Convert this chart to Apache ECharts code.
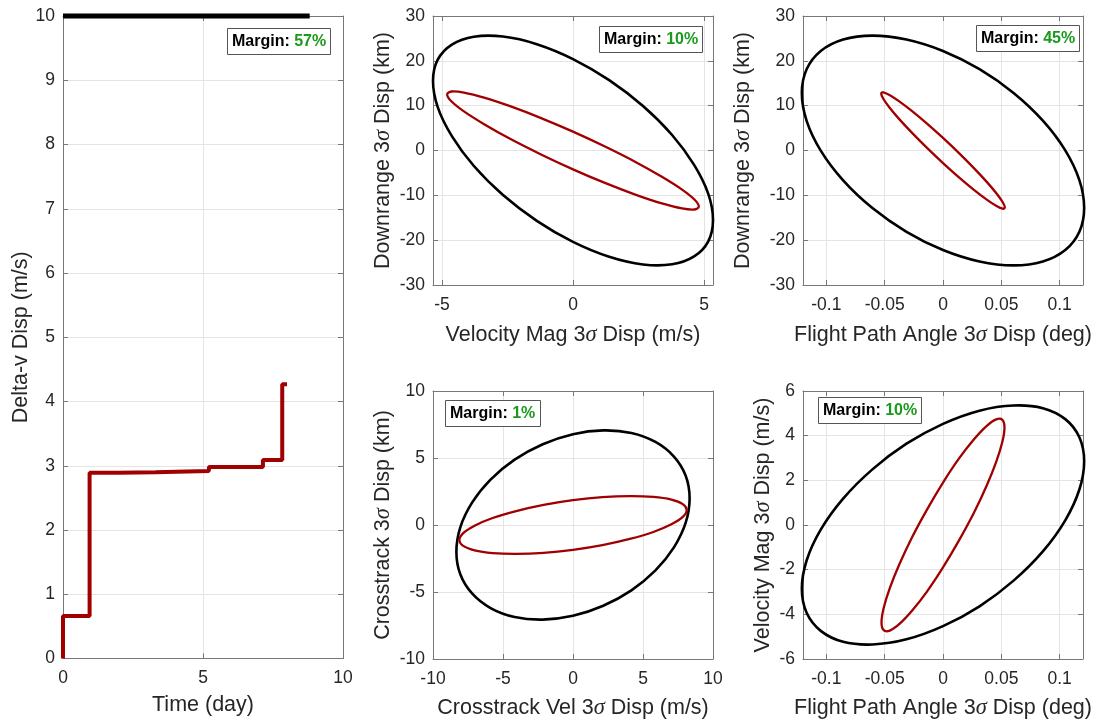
<!DOCTYPE html>
<html><head><meta charset="utf-8">
<script src="https://cdn.jsdelivr.net/npm/echarts@6/dist/echarts.min.js"></script>
<style>html,body{margin:0;padding:0;background:#fff}#c{width:1098px;height:721px}</style>
</head><body><div id="c"></div>
<script>
// ---- Data ----
// Panel 1: delta-v dispersion vs time (stairs) and the limit line
const dvTime = [0, 0, 0.95, 1.96, 3.3, 5.21, 7.14, 7.83, 8.0];
const dvValue = [0, 0.66, 2.89, 2.90, 2.92, 2.98, 3.09, 4.27, 4.27];
const dvLimitTime = [0, 8.81];
const dvLimitValue = [10, 10];

// Panel 2: Velocity Mag (m/s) vs Downrange (km) - closed outlines
const vmDrLimit = [[5.34,-15.5],[5.16,-9.69],[4.62,-3.22],[3.78,3.46],[2.67,9.92],[1.38,15.69],[0,20.4],[-1.38,23.72],[-2.67,25.42],[-3.78,25.38],[-4.62,23.62],[-5.16,20.25],[-5.34,15.5],[-5.16,9.69],[-4.62,3.22],[-3.78,-3.46],[-2.67,-9.92],[-1.38,-15.69],[0,-20.4],[1.38,-23.72],[2.67,-25.42],[3.78,-25.38],[4.62,-23.62],[5.16,-20.25]];
const vmDrActual = [[4.8,-12.5],[4.64,-10.99],[4.16,-8.73],[3.39,-5.87],[2.4,-2.61],[1.24,0.82],[0,4.2],[-1.24,7.29],[-2.4,9.89],[-3.39,11.81],[-4.16,12.93],[-4.64,13.16],[-4.8,12.5],[-4.64,10.99],[-4.16,8.73],[-3.39,5.87],[-2.4,2.61],[-1.24,-0.82],[0,-4.2],[1.24,-7.29],[2.4,-9.89],[3.39,-11.81],[4.16,-12.93],[4.64,-13.16]];

// Panel 3: Flight Path Angle (deg) vs Downrange (km)
const fpaDrLimit = [[0.121,-12.8],[0.1169,-6.62],[0.1048,0.02],[0.0856,6.65],[0.0605,12.83],[0.0313,18.13],[0,22.2],[-0.0313,24.76],[-0.0605,25.63],[-0.0856,24.75],[-0.1048,22.19],[-0.1169,18.11],[-0.121,12.8],[-0.1169,6.62],[-0.1048,-0.02],[-0.0856,-6.65],[-0.0605,-12.83],[-0.0313,-18.13],[0,-22.2],[0.0313,-24.76],[0.0605,-25.63],[0.0856,-24.75],[0.1048,-22.19],[0.1169,-18.11]];
const fpaDrActual = [[0.053,-12.7],[0.0512,-11.54],[0.0459,-9.6],[0.0375,-7.0],[0.0265,-3.93],[0.0137,-0.58],[0,2.8],[-0.0137,5.99],[-0.0265,8.78],[-0.0375,10.96],[-0.0459,12.4],[-0.0512,12.99],[-0.053,12.7],[-0.0512,11.54],[-0.0459,9.6],[-0.0375,7.0],[-0.0265,3.93],[-0.0137,0.58],[0,-2.8],[0.0137,-5.99],[0.0265,-8.78],[0.0375,-10.96],[0.0459,-12.4],[0.0512,-12.99]];

// Panel 4: Crosstrack Vel (m/s) vs Crosstrack (km)
const ctLimit = [[8.33,1.99],[8.05,3.68],[7.21,5.11],[5.89,6.2],[4.17,6.87],[2.16,7.06],[0,6.78],[-2.16,6.03],[-4.17,4.88],[-5.89,3.39],[-7.21,1.67],[-8.05,-0.17],[-8.33,-1.99],[-8.05,-3.68],[-7.21,-5.11],[-5.89,-6.2],[-4.17,-6.87],[-2.16,-7.06],[0,-6.78],[2.16,-6.03],[4.17,-4.88],[5.89,-3.39],[7.21,-1.67],[8.05,0.17]];
const ctActual = [[8.12,1.12],[7.84,1.56],[7.03,1.9],[5.74,2.1],[4.06,2.16],[2.1,2.08],[0,1.85],[-2.1,1.5],[-4.06,1.04],[-5.74,0.52],[-7.03,-0.05],[-7.84,-0.6],[-8.12,-1.12],[-7.84,-1.56],[-7.03,-1.9],[-5.74,-2.1],[-4.06,-2.16],[-2.1,-2.08],[0,-1.85],[2.1,-1.5],[4.06,-1.04],[5.74,-0.52],[7.03,0.05],[7.84,0.6]];

// Panel 5: Flight Path Angle (deg) vs Velocity Mag (m/s)
const fpaVmLimit = [[0.121,2.86],[0.1169,3.93],[0.1048,4.74],[0.0856,5.23],[0.0605,5.35],[0.0313,5.12],[0,4.53],[-0.0313,3.64],[-0.0605,2.49],[-0.0856,1.18],[-0.1048,-0.21],[-0.1169,-1.59],[-0.121,-2.86],[-0.1169,-3.93],[-0.1048,-4.74],[-0.0856,-5.23],[-0.0605,-5.35],[-0.0313,-5.12],[0,-4.53],[0.0313,-3.64],[0.0605,-2.49],[0.0856,-1.18],[0.1048,0.21],[0.1169,1.59]];
const fpaVmActual = [[0.0527,4.37],[0.0509,4.71],[0.0456,4.73],[0.0373,4.43],[0.0264,3.83],[0.0136,2.97],[0,1.9],[-0.0136,0.7],[-0.0264,-0.54],[-0.0373,-1.75],[-0.0456,-2.83],[-0.0509,-3.73],[-0.0527,-4.37],[-0.0509,-4.71],[-0.0456,-4.73],[-0.0373,-4.43],[-0.0264,-3.83],[-0.0136,-2.97],[0,-1.9],[0.0136,-0.7],[0.0264,0.54],[0.0373,1.75],[0.0456,2.83],[0.0509,3.73]];

// Tick values
const timeTicks = [0, 5, 10];
const dvTicks = [0, 1, 2, 3, 4, 5, 6, 7, 8, 9, 10];
const vmTicksX = [-5, 0, 5];
const drTicks = [-30, -20, -10, 0, 10, 20, 30];
const fpaTicks = [-0.1, -0.05, 0, 0.05, 0.1];
const ctVelTicks = [-10, -5, 0, 5, 10];
const ctTicks = [-10, -5, 0, 5, 10];
const vmTicksY = [-6, -4, -2, 0, 2, 4, 6];

// Axis names
const xNames = ['Time (day)', 'Velocity Mag 3{s|σ} Disp (m/s)', 'Flight Path Angle 3{s|σ} Disp (deg)', 'Crosstrack Vel 3{s|σ} Disp (m/s)', 'Flight Path Angle 3{s|σ} Disp (deg)'];
const yNames = ['Delta-v Disp (m/s)', 'Downrange 3{s|σ} Disp (km)', 'Downrange 3{s|σ} Disp (km)', 'Crosstrack 3{s|σ} Disp (km)', 'Velocity Mag 3{s|σ} Disp (m/s)'];
const marginValues = ['57%', '10%', '45%', '1%', '10%'];

// ---- Layout / style ----
const FONT = '"Liberation Sans", Arial, Helvetica, sans-serif';
const AX = '#777777';
const TXT = '#262626';
const GRIDC = '#e4e4e4';
const RED = '#a00000';
const GREEN = '#1a9a1a';
const NAME_FS = 21.5;
const TICK_FS = 17.5;
const grids = [
  {left: 63, top: 16, width: 280, height: 644},
  {left: 433, top: 16, width: 280, height: 269},
  {left: 803, top: 16, width: 280, height: 269},
  {left: 433, top: 391, width: 280, height: 268},
  {left: 803, top: 391, width: 280, height: 269}
];
const xRanges = [[0, 10], [-5.34, 5.34], [-0.12, 0.12], [-10, 10], [-0.12, 0.12]];
const yRanges = [[0, 10], [-30, 30], [-30, 30], [-10, 10], [-6, 6]];
const xTickSets = [timeTicks, vmTicksX, fpaTicks, ctVelTicks, fpaTicks];
const yTickSets = [dvTicks, drTicks, drTicks, ctTicks, vmTicksY];
const xNameGaps = [35.5, 39, 39, 38, 38];
const yNameGaps = [29.5, 38.5, 48.5, 38.5, 28.5];
const boxPos = [[227, 27], [599, 25], [976, 24], [445, 399], [818, 396]];

const RICH = {s: {fontFamily: '"Liberation Serif", "DejaVu Serif", serif', fontStyle: 'italic', fontSize: NAME_FS + 1, color: TXT}};
const fmt = v => String(+(+v).toFixed(4));

const xAxes = [], yAxes = [];
grids.forEach((g, i) => {
  xAxes.push({
    type: 'value', gridIndex: i, position: 'bottom', min: xRanges[i][0], max: xRanges[i][1],
    name: xNames[i], nameLocation: 'middle', nameGap: xNameGaps[i],
    nameTextStyle: {fontSize: NAME_FS, color: TXT, fontFamily: FONT, rich: RICH},
    axisLine: {show: true, onZero: false, lineStyle: {color: AX, width: 1}},
    axisTick: {show: true, inside: true, length: 5, customValues: xTickSets[i], lineStyle: {color: AX}},
    axisLabel: {show: true, customValues: xTickSets[i], margin: 11, fontSize: TICK_FS, color: TXT, fontFamily: FONT, formatter: fmt},
    splitLine: {show: true, lineStyle: {color: GRIDC, width: 1}}
  });
  xAxes.push({
    type: 'value', gridIndex: i, position: 'top', min: xRanges[i][0], max: xRanges[i][1],
    axisLine: {show: true, onZero: false, lineStyle: {color: AX, width: 1}},
    axisTick: {show: true, inside: true, length: 5, customValues: xTickSets[i], lineStyle: {color: AX}},
    axisLabel: {show: false}, splitLine: {show: false}
  });
  yAxes.push({
    type: 'value', gridIndex: i, position: 'left', min: yRanges[i][0], max: yRanges[i][1],
    name: yNames[i], nameLocation: 'middle', nameGap: yNameGaps[i],
    nameTextStyle: {fontSize: NAME_FS, color: TXT, fontFamily: FONT, rich: RICH},
    axisLine: {show: true, onZero: false, lineStyle: {color: AX, width: 1}},
    axisTick: {show: true, inside: true, length: 5, customValues: yTickSets[i], lineStyle: {color: AX}},
    axisLabel: {show: true, customValues: yTickSets[i], margin: 8, fontSize: TICK_FS, color: TXT, fontFamily: FONT, formatter: fmt},
    splitLine: {show: true, lineStyle: {color: GRIDC, width: 1}}
  });
  yAxes.push({
    type: 'value', gridIndex: i, position: 'right', min: yRanges[i][0], max: yRanges[i][1],
    axisLine: {show: true, onZero: false, lineStyle: {color: AX, width: 1}},
    axisTick: {show: true, inside: true, length: 5, customValues: yTickSets[i], lineStyle: {color: AX}},
    axisLabel: {show: false}, splitLine: {show: false}
  });
});

function lineSeries(i, data, color, width, extra) {
  return Object.assign({
    type: 'line', xAxisIndex: 2 * i, yAxisIndex: 2 * i, data: data,
    showSymbol: false, symbol: 'none', clip: false, smooth: false,
    lineStyle: {color: color, width: width}, silent: true, z: 3
  }, extra || {});
}

// Closed outline drawn through the axes' own scales (api.coord)
function outlineSeries(i, pts, color, width) {
  return {
    type: 'custom', coordinateSystem: 'cartesian2d', xAxisIndex: 2 * i, yAxisIndex: 2 * i,
    data: [pts[0]], silent: true, z: 3, clip: false,
    renderItem: (params, api) => ({
      type: 'polygon',
      shape: {points: pts.map(p => api.coord(p)), smooth: 0.34},
      style: {fill: null, stroke: color, lineWidth: width, lineJoin: 'round'}
    })
  };
}

const series = [
  lineSeries(0, dvTime.map((t, k) => [t, dvValue[k]]), RED, 4, {step: 'end'}),
  lineSeries(0, dvLimitTime.map((t, k) => [t, dvLimitValue[k]]), '#000', 5),
  outlineSeries(1, vmDrLimit, '#000', 2.6),
  outlineSeries(1, vmDrActual, RED, 2.3),
  outlineSeries(2, fpaDrLimit, '#000', 2.6),
  outlineSeries(2, fpaDrActual, RED, 2.3),
  outlineSeries(3, ctLimit, '#000', 2.6),
  outlineSeries(3, ctActual, RED, 2.3),
  outlineSeries(4, fpaVmLimit, '#000', 2.6),
  outlineSeries(4, fpaVmActual, RED, 2.3)
];

const titles = marginValues.map((m, i) => ({
  left: boxPos[i][0], top: boxPos[i][1],
  text: '{a|Margin: }{b|' + m + '}',
  padding: [6, 5, 5, 5],
  borderColor: '#555', borderWidth: 1, backgroundColor: '#fff',
  textStyle: {
    rich: {
      a: {fontFamily: FONT, fontWeight: 'bold', fontSize: 16, color: '#000', lineHeight: 18},
      b: {fontFamily: FONT, fontWeight: 'bold', fontSize: 16, color: GREEN, lineHeight: 18}
    }
  },
  z: 10
}));

const chart = echarts.init(document.getElementById('c'), null, {renderer: 'canvas'});
chart.setOption({
  animation: false,
  backgroundColor: '#fff',
  title: titles,
  grid: grids,
  xAxis: xAxes,
  yAxis: yAxes,
  series: series
});
</script>
</body></html>
